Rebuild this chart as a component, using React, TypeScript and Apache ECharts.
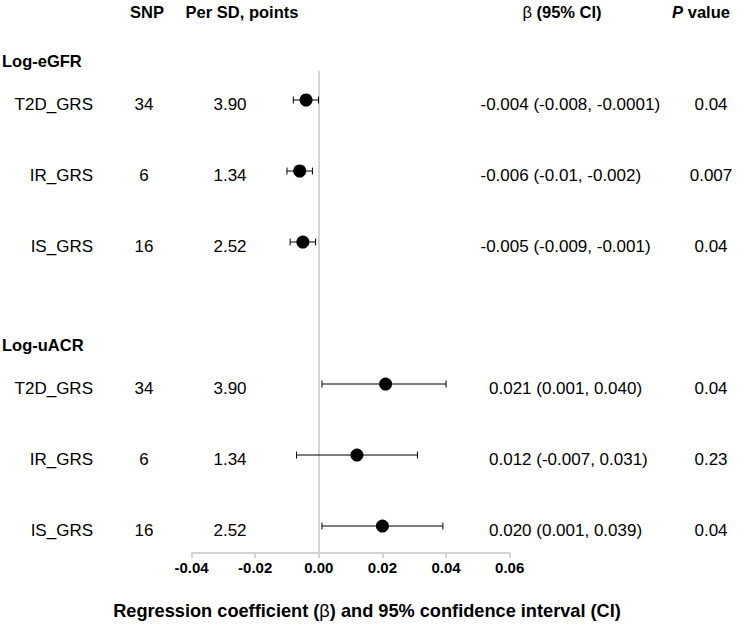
import React, { useEffect, useRef } from "react";
import * as echarts from "echarts";

const groupNames = ["Log-eGFR", "Log-uACR"];
const groupFirstRow = [0, 4];
const rowIndex = [0, 1, 2, 4, 5, 6];
const scoreLabels = ["T2D_GRS", "IR_GRS", "IS_GRS", "T2D_GRS", "IR_GRS", "IS_GRS"];
const snpCounts = ["34", "6", "16", "34", "6", "16"];
const perSdPoints = ["3.90", "1.34", "2.52", "3.90", "1.34", "2.52"];
const betaValues = [-0.004, -0.006, -0.005, 0.021, 0.012, 0.02];
const ciLower = [-0.008, -0.01, -0.009, 0.001, -0.007, 0.001];
const ciUpper = [-0.0001, -0.002, -0.001, 0.04, 0.031, 0.039];
const ciTexts = [
  "-0.004 (-0.008, -0.0001)",
  "-0.006 (-0.01, -0.002)",
  "-0.005 (-0.009, -0.001)",
  "0.021 (0.001, 0.040)",
  "0.012 (-0.007, 0.031)",
  "0.020 (0.001, 0.039)",
];
const pValues = ["0.04", "0.007", "0.04", "0.04", "0.23", "0.04"];
const xMin = -0.04;
const xMax = 0.06;
const xInterval = 0.02;
const xTitle = "Regression coefficient ({b|β}) and 95% confidence interval (CI)";

const FONT = '"Liberation Sans", Arial, Helvetica, sans-serif';

export default function App() {
  const ref = useRef<HTMLDivElement>(null);

  useEffect(() => {
    if (!ref.current) return;
    const chart = echarts.init(ref.current, undefined, { renderer: "svg" });

    const option: any = {
      animation: false,
      backgroundColor: "#ffffff",
      grid: { left: 191.5, right: 234.3, top: 71.6, bottom: 83, containLabel: false },
      xAxis: {
        type: "value",
        min: xMin,
        max: xMax,
        interval: xInterval,
        axisLine: { show: true, onZero: false, lineStyle: { color: "#d4d4d4", width: 2 } },
        axisTick: { show: true, length: 5, lineStyle: { color: "#d4d4d4", width: 2 } },
        splitLine: { show: false },
        axisLabel: {
          margin: 7,
          fontFamily: FONT,
          fontSize: 15,
          fontWeight: "bold",
          color: "#000",
          formatter: (v: number) => (Math.abs(v) < 1e-9 ? "0.00" : v.toFixed(2)),
        },
      },
      yAxis: {
        type: "value",
        inverse: true,
        min: -0.4,
        max: 6.38,
        axisLine: { show: true, onZero: true, lineStyle: { color: "#d4d4d4", width: 2 } },
        axisTick: { show: false },
        axisLabel: { show: false },
        splitLine: { show: false },
      },
      series: [
        {
          type: "custom",
          name: "CI",
          data: rowIndex.map((r, i) => [ciLower[i], ciUpper[i], r]),
          renderItem: (params: any, api: any) => {
            const lo = api.coord([api.value(0), api.value(2)]);
            const hi = api.coord([api.value(1), api.value(2)]);
            const cap = 3.5;
            const style = { stroke: "#000", lineWidth: 1 };
            return {
              type: "group",
              children: [
                { type: "line", shape: { x1: lo[0], y1: lo[1], x2: hi[0], y2: hi[1] }, style },
                { type: "line", shape: { x1: lo[0], y1: lo[1] - cap, x2: lo[0], y2: lo[1] + cap }, style },
                { type: "line", shape: { x1: hi[0], y1: hi[1] - cap, x2: hi[0], y2: hi[1] + cap }, style },
              ],
            };
          },
          z: 3,
        },
        {
          type: "scatter",
          name: "beta",
          data: rowIndex.map((r, i) => [betaValues[i], r]),
          symbol: "circle",
          symbolSize: 13,
          itemStyle: { color: "#000", opacity: 1 },
          z: 4,
        },
      ],
    };

    chart.setOption(option);

    const rowY = (r: number) => chart.convertToPixel({ yAxisIndex: 0 }, r) as number;
    const txt = (text: string, x: number, y: number, align: string, extra: any = {}) => ({
      type: "text",
      x,
      y,
      style: {
        text,
        x: 0,
        y: 0,
        align,
        verticalAlign: "middle",
        fontFamily: FONT,
        fontSize: 17,
        fill: "#000",
        ...extra,
      },
    });

    const elements: any[] = [];
    const headStyle = { fontSize: 16.5, fontWeight: "bold" };
    elements.push(txt("SNP", 147, 12, "center", headStyle));
    elements.push(txt("Per SD, points", 242, 12, "center", headStyle));
    elements.push(
      txt("{s|β} (95% CI)", 562, 12, "center", {
        ...headStyle,
        rich: { s: { fontFamily: FONT, fontSize: 16.5, fontWeight: "normal", fill: "#000" } },
      })
    );
    elements.push(
      txt("{i|P} value", 701, 12, "center", {
        ...headStyle,
        rich: { i: { fontFamily: FONT, fontSize: 16.5, fontWeight: "bold", fontStyle: "italic", fill: "#000" } },
      })
    );
    elements.push(
      txt(xTitle, 367, 611, "center", {
        fontSize: 18.2,
        fontWeight: "bold",
        rich: { b: { fontFamily: FONT, fontSize: 18.2, fontWeight: "normal", fill: "#000" } },
      })
    );
    groupNames.forEach((g, gi) => {
      elements.push(txt(g, 2, rowY(groupFirstRow[gi]) - 39, "left", headStyle));
    });
    rowIndex.forEach((r, i) => {
      const y = rowY(r) + 4;
      elements.push(txt(scoreLabels[i], 93, y, "right"));
      elements.push(txt(snpCounts[i], 144, y, "center"));
      elements.push(txt(perSdPoints[i], 230, y, "center"));
      const neg = ciTexts[i].startsWith("-");
      elements.push(txt(ciTexts[i], neg ? 480.5 : 489, y, "left"));
      elements.push(txt(pValues[i], 711, y, "center"));
    });

    chart.setOption({ graphic: { elements } });

    return () => chart.dispose();
  }, []);

  return (
    <div
      ref={ref}
      style={{ position: "absolute", left: 0, top: 0, width: 744, height: 636 }}
    />
  );
}
